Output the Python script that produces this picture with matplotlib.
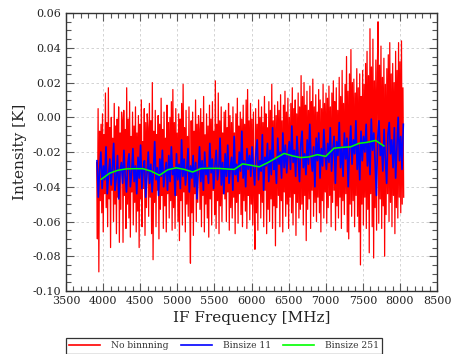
import numpy as np
import matplotlib
matplotlib.use("Agg")
import matplotlib.pyplot as plt
from matplotlib.ticker import MultipleLocator, FuncFormatter
from matplotlib.lines import Line2D

plt.rcParams["font.family"] = ["DejaVu Serif"]
plt.rcParams["axes.unicode_minus"] = False

# Spectrum limits (MHz)
f_start, f_stop = 3913, 8050
blue_start, blue_stop = 3918, 8045

# Unbinned channels, intensity in mK
red_mk = [
    -26, -70, 5, -89, -8, -48, -4, -55, 2, -66, -10, -44, 14, -52, -3, -63, 17, -47, -6, -75, 0, -42, -12, -60, 8, -50, -5, -67, -1, -46, 6, -72, -9, -53, 3,
    -2, -72, 4, -45, -7, -64, 17, -50, -1, -58, 9, -69, -11, -43, 3, -62, -5, -49, 6, -66, -9, -54, 1, -75, -4, -47, 10, -63, -14, -41, 5, -68, -3, -52, 2,
    -6, -57, 8, -46, -2, -67, 20, -82, -8, -49, 4, -63, -10, -42, 1, -70, -4, -53, 11, -45, -7, -64, 3, -51, -12, -66, 7, -44, -3, -58, 0, -48, 9, -65, 16,
    -52, -3, -64, 5, -45, -9, -60, 2, -71, -1, -48, 8, -62, 19, -43, -6, -66, 4, -50, -11, -57, 6, -46, -84, -2, -55, 3, -68, -8, -44, 10, -60, -4, -49, 1,
    -7, -53, 5, -63, -3, -45, 12, -66, -10, -50, 2, -58, -5, -69, 7, -47, -1, -62, 9, -42, -8, -56, 21, -64, -4, -48, 14, -67, -2, -51, 6, -60, -9, -44, 3,
    -47, 4, -60, -6, -43, 8, -65, 1, -52, -3, -58, 6, -46, -9, -67, 2, -49, 11, -61, -5, -44, 3, -56, -1, -63, 7, -48, -4, -54, 10, -64, 16, -45, -2, -59,
    8, -50, -1, -62, 3, -46, -76, 5, -55, -4, -65, 10, -44, 0, -58, 6, -49, -3, -63, 12, -42, 2, -67, -6, -53, 9, -60, 4, -47, 19, -64, -2, -51, 7, -74,
    1, -52, 9, -45, 4, -63, 13, -48, -2, -66, 7, -43, 15, -57, 3, -50, 11, -64, 0, -46, 8, -55, 17, -62, 5, -44, 10, -68, 2, -49, 14, -58, 6, -53, 24,
    -50, 12, -62, 20, -45, 7, -71, 15, -53, 4, -47, 18, -64, 9, -42, 22, -57, 6, -49, 13, -60, 3, -46, 16, -55, 10, -66, 5, -48, 19, -58, 8, -43, 14, -61,
    11, -52, 18, -45, 6, -63, 14, -49, 21, -42, 9, -65, 17, -51, 4, -58, 23, -46, 12, -64, 27, -48, 8, -56, 19, -44, 35, -66, 15, -70, 25, -50, 39, -57, 20,
    -48, 22, -63, 14, -45, 28, -57, 17, -66, 25, -85, 12, -50, 27, -62, 19, -46, 31, -64, 38, -53, 24, -78, 51, -44, 29, -63, 45, -81, 21, -52, 33, -65, 26, 55,
    -61, 30, -47, 41, -64, 23, -51, 34, -80, 19, -56, 28, -44, 36, -60, 43, -49, 25, -63, 31, -45, 20, -67, 38, -52, 27, -58, 43, -46, 32, -55, 44, -50, 17, -46,
]

# Binned by 11 channels, intensity in mK
blue_mk = [
    -25, -46, -30, -20, -41, -28, -36, -17, -44, -33, -24, -39, -29, -15, -42, -35, -22, -47, -31, -26, -38, -19, -34, -43, -27, -21, -40, -32, -18, -37,
    -28, -44, -23, -35, -16, -41, -30, -25, -46, -33, -20, -38, -27, -43, -31, -14, -36, -29, -45, -24, -34, -19, -40, -32, -26, -42, -22, -37, -17, -33,
    -29, -45, -21, -36, -27, -41, -13, -34, -24, -39, -30, -18, -43, -28, -35, -22, -40, -26, -47, -31, -17, -37, -25, -42, -20, -33, -29, -38, -15, -32,
    -24, -41, -28, -19, -36, -30, -12, -39, -26, -44, -21, -34, -16, -38, -29, -23, -42, -11, -33, -27, -37, -20, -31, -8, -35, -25, -40, -18, -30, -22,
    -34, -17, -29, -39, -21, -13, -36, -25, -31, -10, -42, -23, -28, -15, -37, -19, -33, -6, -30, -24, -38, -12, -27, -20, -35, -9, -29, -16, -32, -22,
    -14, -30, -5, -26, -19, -34, -11, -24, -37, -16, -8, -29, -21, -33, -13, -27, -4, -23, -31, -17, -40, -12, -25, -9, -35, -18, -28, -7, -22, -30,
    -15, -26, -6, -31, -19, -11, -38, -14, -22, -3, -29, -17, -34, -9, -24, -12, -40, -18, -5, -27, -13, -21, -2, -30, -16, -36, -8, -25, -11, -20,
    -4, -28, -14, -33, -1, -19, -9, -26, -45, -12, -2, -22, -16, -31, -7, -24, -38, -10, -3, -21, -13, -29, -6, -35, -18, 0, -25, -11, -30, -4,
]

# Binned by 251 channels
green_f = [3975, 4087, 4199, 4311, 4423, 4535, 4647, 4759, 4871, 4983, 5095, 5207,
           5319, 5431, 5543, 5655, 5767, 5879, 5991, 6103, 6215, 6327, 6439, 6551,
           6663, 6775, 6887, 6999, 7111, 7223, 7335, 7447, 7559, 7671, 7783]
green_mk = [-35.7, -32.2, -30.5, -29.7, -29.6, -29.6, -31.0, -33.4, -30.2, -29.1, -30.0, -31.5,
            -29.5, -29.4, -29.4, -29.7, -30.0, -26.8, -27.6, -28.5, -26.2, -23.5, -20.8, -22.2,
            -23.2, -22.8, -21.5, -22.5, -17.8, -17.3, -17.0, -15.0, -14.4, -13.3, -16.5]

labels = ["No binnning", "Binsize 11", "Binsize 251"]
colors = ["#ff0000", "#0000ff", "#00ff00"]

red_f = np.linspace(f_start, f_stop, len(red_mk))
blue_f = np.linspace(blue_start, blue_stop, len(blue_mk))
red_k = np.array(red_mk) / 1000.0
blue_k = np.array(blue_mk) / 1000.0
green_k = np.array(green_mk) / 1000.0

fig = plt.figure(figsize=(4.52, 3.54), dpi=100)
ax = fig.add_axes([0.146, 0.178, 0.821, 0.785])

ax.plot(red_f, red_k, color=colors[0], lw=0.9)
ax.plot(blue_f, blue_k, color=colors[1], lw=1.2)
ax.plot(green_f, green_k, color=colors[2], lw=1.1)

ax.set_xlim(3500, 8500)
ax.set_ylim(-0.10, 0.06)
ax.xaxis.set_major_locator(MultipleLocator(500))
ax.xaxis.set_minor_locator(MultipleLocator(100))
ax.yaxis.set_major_locator(MultipleLocator(0.02))
ax.yaxis.set_minor_locator(MultipleLocator(0.005))
ax.yaxis.set_major_formatter(FuncFormatter(lambda v, p: "%.2f" % (0.0 if abs(v) < 1e-9 else v)))

ax.tick_params(which="both", direction="in", top=True, right=True,
               colors="#555555", labelcolor="#222222", labelsize=8)
ax.tick_params(which="major", length=6, width=0.8)
ax.tick_params(which="minor", length=3.5, width=0.8)
for s in ax.spines.values():
    s.set_color("#333333")
    s.set_linewidth(1.0)

ax.grid(True, which="major", color="#cccccc", linestyle=(0, (3, 3)), lw=0.6)
ax.set_axisbelow(True)

ax.set_xlabel("IF Frequency [MHz]", fontsize=11, color="#222222", labelpad=4)
ax.set_ylabel("Intensity [K]", fontsize=11, color="#222222", labelpad=4)

handles = [Line2D([], [], color=c, lw=1.2) for c in colors]
leg = fig.legend(handles, labels, loc="lower center", bbox_to_anchor=(0.496, 0.0), ncol=3,
                 fontsize=6.6, frameon=True, fancybox=False, edgecolor="black",
                 handlelength=3.4, handletextpad=1.2, columnspacing=1.3,
                 borderpad=0.35, borderaxespad=0.05)
leg.get_frame().set_linewidth(0.9)
for t in leg.get_texts():
    t.set_color("#333333")

fig.savefig("out.png", dpi=100)
